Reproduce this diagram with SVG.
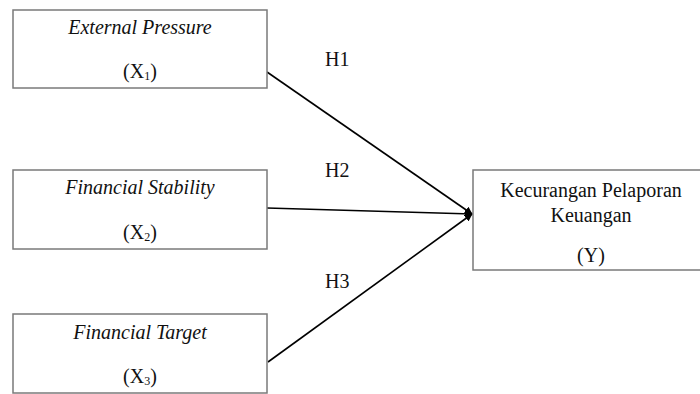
<svg xmlns="http://www.w3.org/2000/svg" width="700" height="394" viewBox="0 0 700 394">
<style>
.box{fill:#fff;stroke:#7a7a7a;stroke-width:1.5}
text{font-family:"Liberation Serif","Times New Roman","DejaVu Serif",serif;font-size:20px;fill:#111}
.t{text-anchor:middle}
.i{font-style:italic}
.s{font-size:12px}
.c{stroke:#000;stroke-width:1.6;fill:none;marker-end:url(#ah)}
</style>
<defs>
<marker id="ah" viewBox="0 0 10 10" refX="9" refY="5" markerWidth="5" markerHeight="5" orient="auto" markerUnits="strokeWidth">
<path d="M0,0 L10,5 L0,10 z" fill="#000"/>
</marker>
</defs>
<rect width="700" height="394" fill="#fff"/>
<g id="connectors">
<line class="c" x1="267" y1="72" x2="472" y2="214"/>
<line class="c" x1="267" y1="208" x2="472" y2="214"/>
<line class="c" x1="268" y1="362" x2="472" y2="214"/>
<text x="325" y="66">H1</text>
<text x="325" y="177">H2</text>
<text x="325" y="288">H3</text>
</g>
<g id="x1">
<rect class="box" x="13" y="10" width="254" height="78"/>
<text class="t i" x="140" y="34">External Pressure</text>
<text class="t" x="140" y="78">(X<tspan class="s" dy="2">1</tspan><tspan dy="-2">)</tspan></text>
</g>
<g id="x2">
<rect class="box" x="13" y="170" width="254" height="79"/>
<text class="t i" x="140" y="194">Financial Stability</text>
<text class="t" x="140" y="239">(X<tspan class="s" dy="2">2</tspan><tspan dy="-2">)</tspan></text>
</g>
<g id="x3">
<rect class="box" x="13" y="314" width="254" height="79"/>
<text class="t i" x="140" y="339">Financial Target</text>
<text class="t" x="140" y="383">(X<tspan class="s" dy="2">3</tspan><tspan dy="-2">)</tspan></text>
</g>
<g id="y">
<rect class="box" x="473" y="170" width="240" height="100"/>
<text class="t" x="591" y="197">Kecurangan Pelaporan</text>
<text class="t" x="591" y="222">Keuangan</text>
<text class="t" x="591" y="262">(Y)</text>
</g>
</svg>
